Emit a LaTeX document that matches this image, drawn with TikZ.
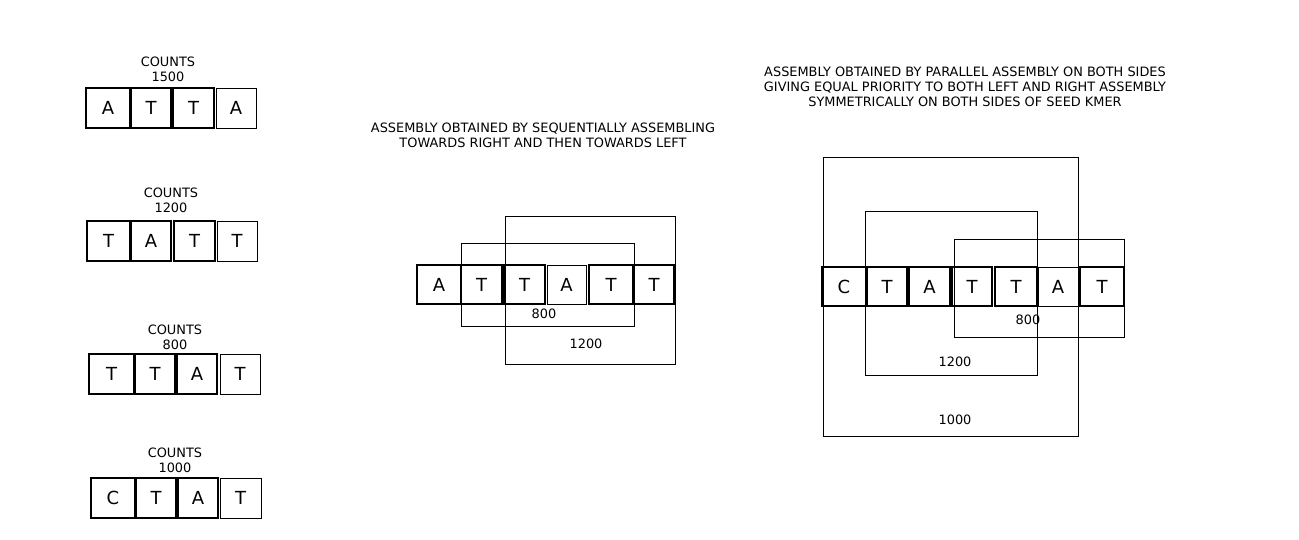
\documentclass[tikz,border=0pt]{standalone}
\usepackage{fontspec}
\setmainfont{DejaVu Sans}
\begin{document}
\begin{tikzpicture}[x=1pt,y=-1pt,
  lbl/.style={font=\fontsize{12.9}{15}\selectfont, inner sep=0pt, align=center},
  base/.style={draw, rectangle, inner sep=0pt, font=\fontsize{18}{20}\selectfont},
  cB/.style={base, line width=2pt},
  cM/.style={base, line width=1.3pt},
  cT/.style={base, line width=0.8pt},
  frame/.style={draw, line width=1pt}]
\useasboundingbox[fill=white] (0,0) rectangle (1299,540);
\newcommand\kcell[7]{\node[#1, minimum width={(#4-#3)*1pt}, minimum height={(#6-#5)*1pt}] (#2) at ({(#3+#4)/2},{(#5+#6)/2}) {#7};}
% left kmers
\node[lbl] (c1) at (168,69.5) {COUNTS\\1500};
\kcell{cB}{k1a}{86}{130}{88}{128}{A}
\kcell{cB}{k1b}{131}{171}{88}{128}{T}
\kcell{cB}{k1c}{173}{214}{88}{128}{T}
\kcell{cT}{k1d}{216}{256}{88}{128}{A}
\node[lbl] (c2) at (171,200.5) {COUNTS\\1200};
\kcell{cB}{k2a}{87}{130}{221}{261}{T}
\kcell{cB}{k2b}{131}{171}{221}{261}{A}
\kcell{cB}{k2c}{174}{215}{221}{261}{T}
\kcell{cT}{k2d}{217}{257}{221}{261}{T}
\node[lbl] (c3) at (175,337.5) {COUNTS\\800};
\kcell{cB}{k3a}{89}{134}{354}{394}{T}
\kcell{cB}{k3b}{135}{175}{354}{394}{T}
\kcell{cB}{k3c}{177}{217}{354}{394}{A}
\kcell{cT}{k3d}{220}{260}{354}{394}{T}
\node[lbl] (c4) at (175,460.5) {COUNTS\\1000};
\kcell{cB}{k4a}{91}{135}{478}{518}{C}
\kcell{cB}{k4b}{136}{176}{478}{518}{T}
\kcell{cB}{k4c}{178}{218}{478}{518}{A}
\kcell{cT}{k4d}{220}{261}{478}{518}{T}
% middle
\node[lbl] (t1) at (543,135.5) {ASSEMBLY OBTAINED BY SEQUENTIALLY ASSEMBLING\\TOWARDS RIGHT AND THEN TOWARDS LEFT};
\draw[frame] (461,244) rectangle (634,326);
\draw[frame] (505,217) rectangle (675,364);
\kcell{cB}{m1}{417}{461}{265}{304}{A}
\kcell{cB}{m2}{461}{502}{265}{304}{T}
\kcell{cM}{m3}{504}{545}{265}{304}{T}
\kcell{cT}{m4}{547}{586}{265}{304}{A}
\kcell{cB}{m5}{589}{633}{265}{304}{T}
\kcell{cB}{m6}{634}{674}{265}{304}{T}
\node[lbl] (n800a) at (544,314) {800};
\node[lbl] (n1200a) at (586,344) {1200};
% right
\node[lbl] (t2) at (965,87) {ASSEMBLY OBTAINED BY PARALLEL ASSEMBLY ON BOTH SIDES\\GIVING EQUAL PRIORITY TO BOTH LEFT AND RIGHT ASSEMBLY\\SYMMETRICALLY ON BOTH SIDES OF SEED KMER};
\draw[frame] (823,158) rectangle (1078,436);
\draw[frame] (865,212) rectangle (1037,375);
\draw[frame] (954,240) rectangle (1124,337);
\kcell{cB}{r1}{822}{866}{267}{306}{C}
\kcell{cM}{r2}{867}{907}{267}{306}{T}
\kcell{cB}{r3}{909}{950}{267}{306}{A}
\kcell{cB}{r4}{952}{992}{267}{306}{T}
\kcell{cM}{r5}{995}{1037}{267}{306}{T}
\kcell{cT}{r6}{1038}{1078}{267}{306}{A}
\kcell{cB}{r7}{1080}{1124}{267}{306}{T}
\node[lbl] (n800b) at (1028,320) {800};
\node[lbl] (n1200b) at (955,362) {1200};
\node[lbl] (n1000b) at (955,420) {1000};
\end{tikzpicture}
\end{document}
